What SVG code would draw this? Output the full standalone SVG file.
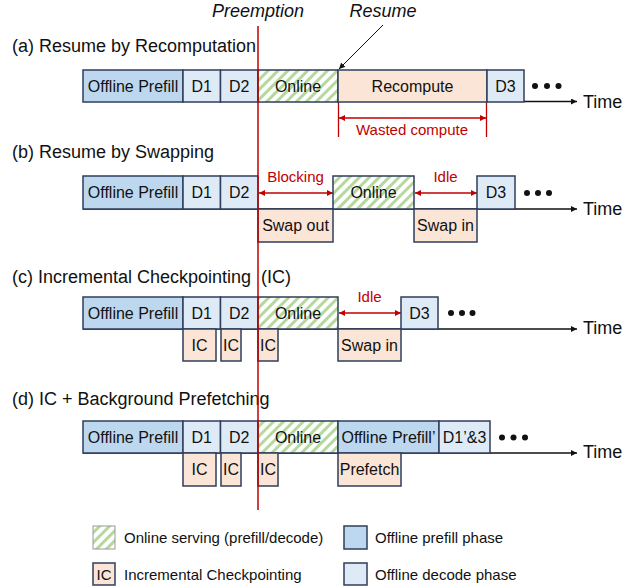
<svg xmlns="http://www.w3.org/2000/svg" width="636" height="586" viewBox="0 0 636 586">
<style>
text{font-family:"Liberation Sans",Arial,sans-serif;fill:#111}
.t{font-size:18px}
.lb{font-size:16px;text-anchor:middle}
.red{font-size:15px;fill:#C00000;text-anchor:middle}
.lg{font-size:15px}
.it{font-size:18px;font-style:italic;text-anchor:middle}
.pf{fill:#BDD7EE;stroke:#2F3E5C;stroke-width:1.5}
.dc{fill:#DEEBF7;stroke:#2F3E5C;stroke-width:1.5}
.or{fill:#FBE5D6;stroke:#2F3E5C;stroke-width:1.5}
.on{fill:url(#hatch);stroke:#2F3E5C;stroke-width:1.5}
.ax{stroke:#111;stroke-width:1.5;fill:none}
.ra{stroke:#C00000;stroke-width:1.3;fill:none}
</style>
<defs>
<pattern id="hatch" patternUnits="userSpaceOnUse" width="7" height="7" patternTransform="rotate(45)">
<rect width="7" height="7" fill="#fff"/>
<rect width="3" height="7" fill="#B5D89C"/>
</pattern>
<marker id="ah" viewBox="0 0 10 10" refX="10" refY="5" markerWidth="6" markerHeight="6" orient="auto-start-reverse" markerUnits="userSpaceOnUse"><path d="M0,0L10,5L0,10z" fill="#111"/></marker>
<marker id="rh" viewBox="0 0 10 10" refX="10" refY="5" markerWidth="6" markerHeight="6" orient="auto-start-reverse" markerUnits="userSpaceOnUse"><path d="M0,0L10,5L0,10z" fill="#C00000"/></marker>
</defs>

<g id="connectors">
<line class="ax" x1="524" y1="101.5" x2="577" y2="101.5" marker-end="url(#ah)"/>
<line class="ax" x1="83" y1="209" x2="577" y2="209" marker-end="url(#ah)"/>
<line class="ax" x1="83" y1="329" x2="577" y2="329" marker-end="url(#ah)"/>
<line class="ax" x1="83" y1="453" x2="577" y2="453" marker-end="url(#ah)"/>
<line x1="383" y1="25" x2="339" y2="69" stroke="#111" stroke-width="1" marker-end="url(#ah)"/>
<line class="ra" x1="338.5" y1="102" x2="338.5" y2="137"/>
<line class="ra" x1="486.5" y1="102" x2="486.5" y2="137"/>
<line class="ra" x1="339" y1="118" x2="486" y2="118" marker-start="url(#rh)" marker-end="url(#rh)"/>
<line class="ra" x1="259" y1="193" x2="333" y2="193" marker-start="url(#rh)" marker-end="url(#rh)"/>
<line class="ra" x1="415" y1="193" x2="477" y2="193" marker-start="url(#rh)" marker-end="url(#rh)"/>
<line class="ra" x1="339" y1="313" x2="401" y2="313" marker-start="url(#rh)" marker-end="url(#rh)"/>
</g>

<g id="labels">
<text class="it" x="258" y="17">Preemption</text>
<text class="it" x="383" y="17">Resume</text>
<text class="t" x="12" y="52">(a) Resume by Recomputation</text>
<text class="t" x="12" y="158">(b) Resume by Swapping</text>
<text class="t" x="12" y="283" xml:space="preserve">(c) Incremental Checkpointing  (IC)</text>
<text class="t" x="12" y="405">(d) IC + Background Prefetching</text>
<text class="red" x="412" y="135">Wasted compute</text>
<text class="red" x="295.5" y="182">Blocking</text>
<text class="red" x="445.5" y="182">Idle</text>
<text class="red" x="369.5" y="302">Idle</text>
<text class="t" x="583" y="108">Time</text>
<text class="t" x="583" y="215">Time</text>
<text class="t" x="583" y="334">Time</text>
<text class="t" x="583" y="458">Time</text>
</g>

<g id="row-a">
<rect class="pf" x="83" y="70" width="100" height="32"/><text class="lb" x="133" y="92">Offline Prefill</text>
<rect class="dc" x="183" y="70" width="37.5" height="32"/><text class="lb" x="201.7" y="92">D1</text>
<rect class="dc" x="220.5" y="70" width="37.5" height="32"/><text class="lb" x="239.2" y="92">D2</text>
<rect class="on" x="258" y="70" width="80" height="32"/><text class="lb" x="298" y="92">Online</text>
<rect class="or" x="338" y="70" width="149" height="32"/><text class="lb" x="412.5" y="92">Recompute</text>
<rect class="dc" x="487" y="70" width="37" height="32"/><text class="lb" x="505.5" y="92">D3</text>
<circle cx="535" cy="86" r="3" fill="#111"/><circle cx="547" cy="86" r="3" fill="#111"/><circle cx="558.5" cy="86" r="3" fill="#111"/>
</g>

<g id="row-b">
<rect class="pf" x="83" y="176" width="100" height="33"/><text class="lb" x="133" y="198">Offline Prefill</text>
<rect class="dc" x="183" y="176" width="37.5" height="33"/><text class="lb" x="201.7" y="198">D1</text>
<rect class="dc" x="220.5" y="176" width="37.5" height="33"/><text class="lb" x="239.2" y="198">D2</text>
<rect class="on" x="333" y="176" width="81" height="33"/><text class="lb" x="373.5" y="198">Online</text>
<rect class="dc" x="477" y="176" width="38" height="33"/><text class="lb" x="496" y="198">D3</text>
<rect class="or" x="258" y="209" width="75" height="33"/><text class="lb" x="295.5" y="231">Swap out</text>
<rect class="or" x="414" y="209" width="63" height="33"/><text class="lb" x="445.5" y="231">Swap in</text>
<circle cx="527" cy="193" r="3" fill="#111"/><circle cx="538" cy="193" r="3" fill="#111"/><circle cx="549" cy="193" r="3" fill="#111"/>
</g>

<g id="row-c">
<rect class="pf" x="83" y="297" width="100" height="32"/><text class="lb" x="133" y="319">Offline Prefill</text>
<rect class="dc" x="183" y="297" width="37.5" height="32"/><text class="lb" x="201.7" y="319">D1</text>
<rect class="dc" x="220.5" y="297" width="37.5" height="32"/><text class="lb" x="239.2" y="319">D2</text>
<rect class="on" x="258" y="297" width="80" height="32"/><text class="lb" x="298" y="319">Online</text>
<rect class="dc" x="401" y="297" width="37" height="32"/><text class="lb" x="419.5" y="319">D3</text>
<rect class="or" x="183" y="329" width="33" height="32"/><text class="lb" x="199.5" y="351">IC</text>
<rect class="or" x="221" y="329" width="20" height="32"/><text class="lb" x="231" y="351">IC</text>
<rect class="or" x="258" y="329" width="20" height="32"/><text class="lb" x="268" y="351">IC</text>
<rect class="or" x="338" y="329" width="63" height="32"/><text class="lb" x="369.5" y="351">Swap in</text>
<circle cx="451" cy="313" r="3" fill="#111"/><circle cx="462" cy="313" r="3" fill="#111"/><circle cx="472.5" cy="313" r="3" fill="#111"/>
</g>

<g id="row-d">
<rect class="pf" x="83" y="421" width="100" height="32"/><text class="lb" x="133" y="443">Offline Prefill</text>
<rect class="dc" x="183" y="421" width="37.5" height="32"/><text class="lb" x="201.7" y="443">D1</text>
<rect class="dc" x="220.5" y="421" width="37.5" height="32"/><text class="lb" x="239.2" y="443">D2</text>
<rect class="on" x="258" y="421" width="80" height="32"/><text class="lb" x="298" y="443">Online</text>
<rect class="pf" x="338" y="421" width="101" height="32"/><text class="lb" x="388.5" y="443">Offline Prefill’</text>
<rect class="dc" x="439" y="421" width="51" height="32"/><text class="lb" x="464.5" y="443">D1’&amp;3</text>
<rect class="or" x="183" y="453" width="33" height="33"/><text class="lb" x="199.5" y="475">IC</text>
<rect class="or" x="221" y="453" width="20" height="33"/><text class="lb" x="231" y="475">IC</text>
<rect class="or" x="258" y="453" width="20" height="33"/><text class="lb" x="268" y="475">IC</text>
<rect class="or" x="338" y="453" width="63" height="33"/><text class="lb" x="369.5" y="475">Prefetch</text>
<circle cx="502" cy="437.5" r="3" fill="#111"/><circle cx="513.5" cy="437.5" r="3" fill="#111"/><circle cx="525" cy="437.5" r="3" fill="#111"/>
</g>

<g id="preemption-line">
<line x1="258" y1="26" x2="258" y2="510" stroke="#C00000" stroke-width="1.5"/>
</g>

<g id="legend">
<rect x="93" y="526" width="22" height="23" fill="url(#hatch)" stroke="#999" stroke-width="1"/>
<text class="lg" x="124" y="543">Online serving (prefill/decode)</text>
<rect class="pf" x="344" y="526" width="23" height="23"/>
<text class="lg" x="375" y="543">Offline prefill phase</text>
<rect class="or" x="93" y="563" width="22" height="22"/>
<text class="lg" x="104" y="580" text-anchor="middle">IC</text>
<text class="lg" x="124" y="580">Incremental Checkpointing</text>
<rect class="dc" x="344" y="563" width="23" height="22"/>
<text class="lg" x="375" y="580">Offline decode phase</text>
</g>
</svg>
